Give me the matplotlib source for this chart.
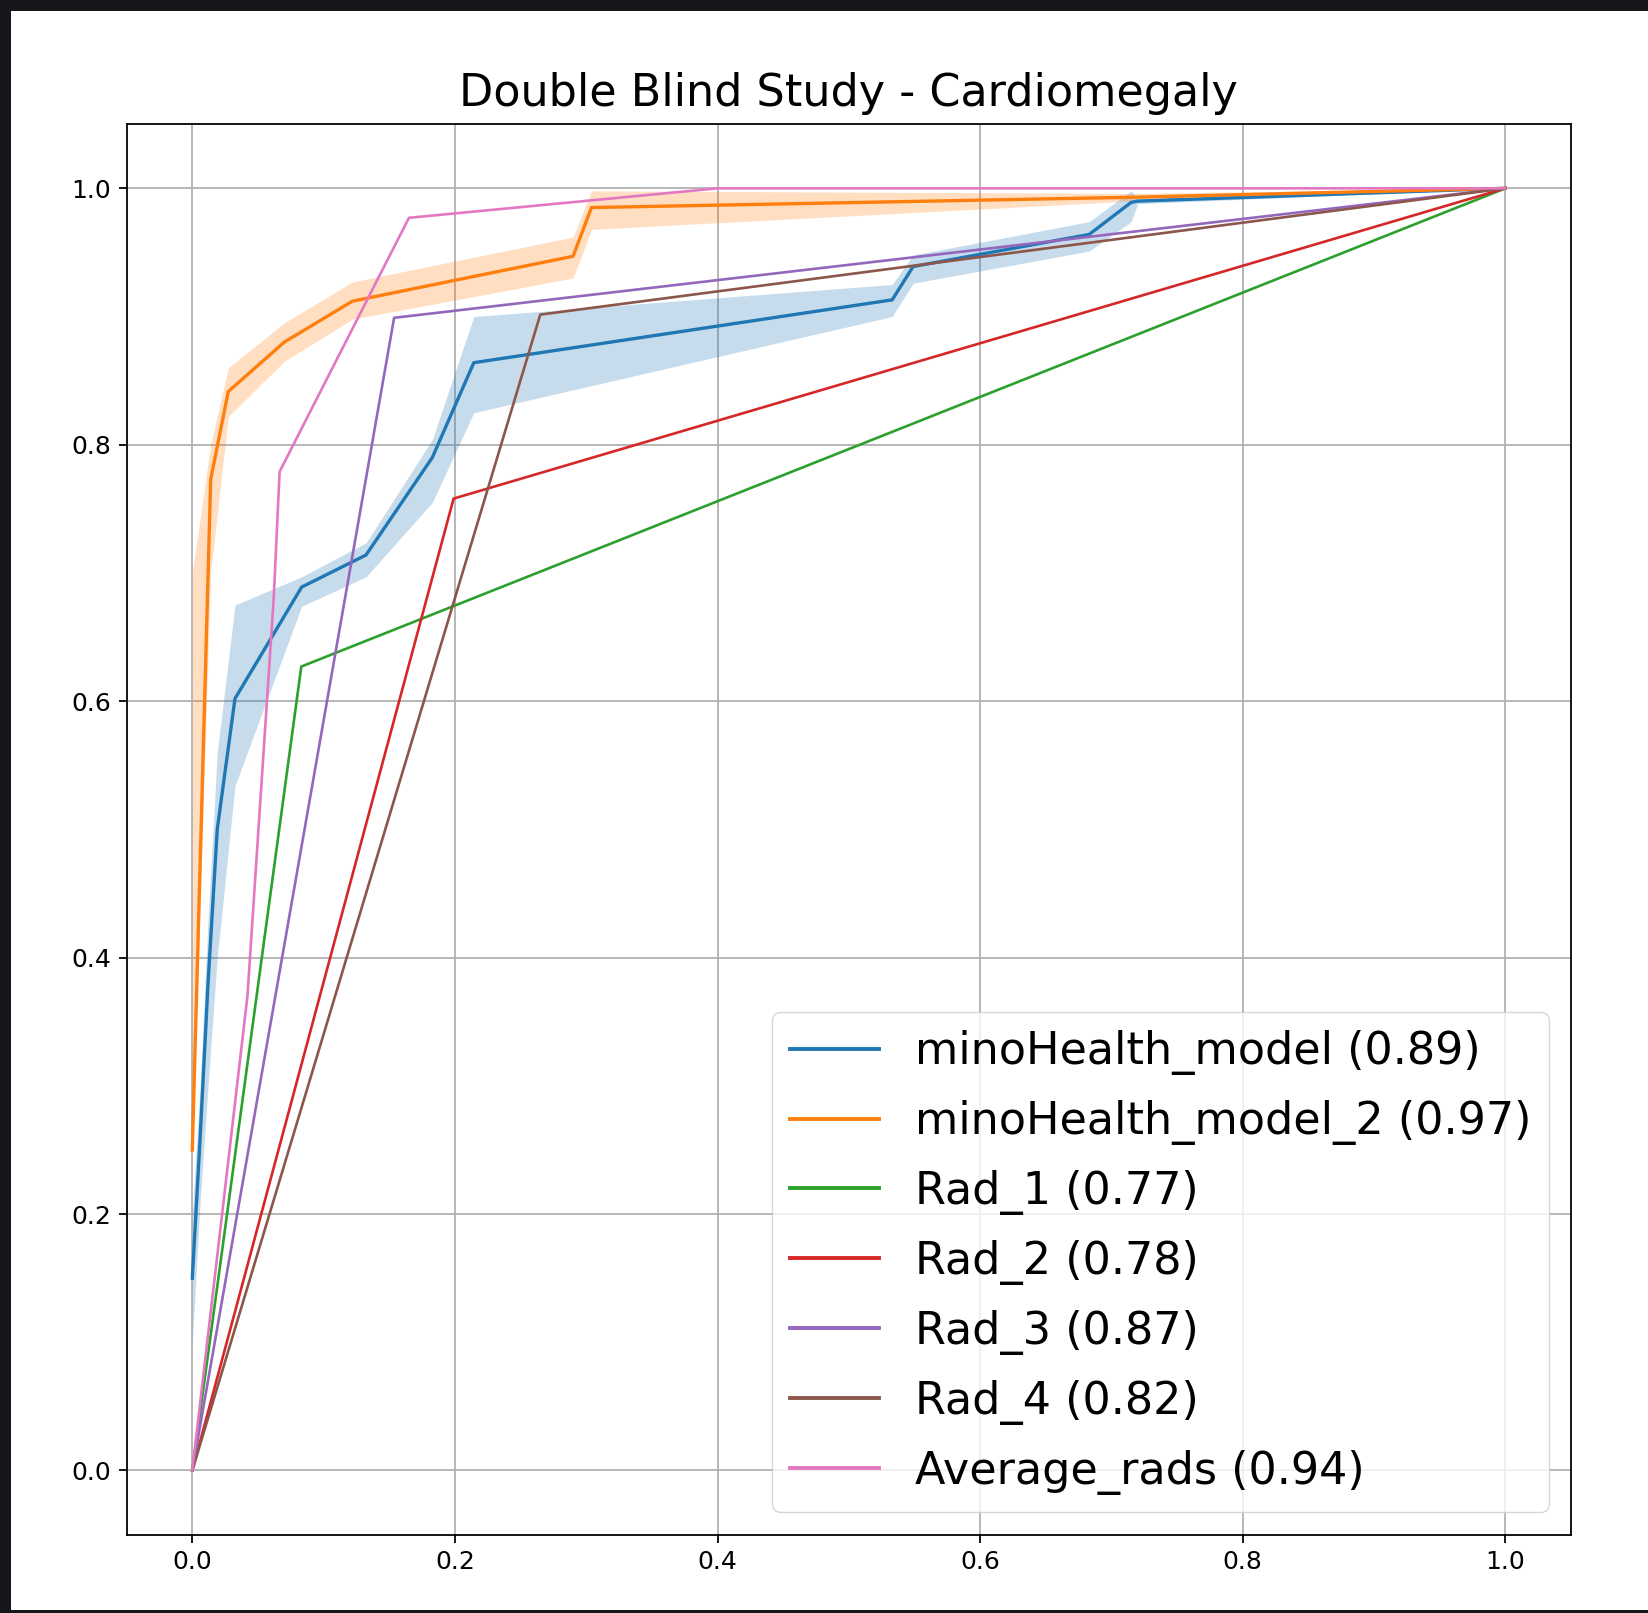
import matplotlib
matplotlib.use('Agg')
import matplotlib.pyplot as plt
from matplotlib.patches import Rectangle

# ROC points (FPR, TPR)
model_fpr = [0.0, 0.006, 0.012, 0.019, 0.0325, 0.0833, 0.1323, 0.1828, 0.2144, 0.533, 0.549, 0.683, 0.715, 0.72, 1.0]
model_tpr = [0.15, 0.26, 0.38, 0.50, 0.602, 0.689, 0.714, 0.790, 0.864, 0.913, 0.939, 0.964, 0.989, 0.99, 1.0]
model_hi = [0.20, 0.30, 0.43, 0.56, 0.675, 0.697, 0.7235, 0.804, 0.900, 0.925, 0.948, 0.974, 0.998, 0.992, 1.0]
model_lo = [0.10, 0.21, 0.30, 0.40, 0.534, 0.674, 0.697, 0.755, 0.825, 0.900, 0.926, 0.951, 0.974, 0.988, 1.0]

model2_fpr = [0.0, 0.014, 0.0274, 0.07, 0.122, 0.29, 0.304, 0.715, 1.0]
model2_tpr = [0.25, 0.773, 0.8415, 0.88, 0.912, 0.947, 0.985, 0.993, 1.0]
model2_hi = [0.70, 0.80, 0.86, 0.895, 0.927, 0.962, 0.998, 0.996, 1.0]
model2_lo = [0.25, 0.70, 0.822, 0.865, 0.898, 0.930, 0.968, 0.990, 1.0]

rad1_fpr = [0.0, 0.083, 1.0]
rad1_tpr = [0.0, 0.627, 1.0]
rad2_fpr = [0.0, 0.199, 1.0]
rad2_tpr = [0.0, 0.758, 1.0]
rad3_fpr = [0.0, 0.1537, 1.0]
rad3_tpr = [0.0, 0.899, 1.0]
rad4_fpr = [0.0, 0.265, 1.0]
rad4_tpr = [0.0, 0.9015, 1.0]
avg_fpr = [0.0, 0.042, 0.062, 0.0665, 0.165, 0.4, 1.0]
avg_tpr = [0.0, 0.37, 0.68, 0.779, 0.977, 1.0, 1.0]

labels = ['minoHealth_model (0.89)', 'minoHealth_model_2 (0.97)', 'Rad_1 (0.77)',
          'Rad_2 (0.78)', 'Rad_3 (0.87)', 'Rad_4 (0.82)', 'Average_rads (0.94)']
ticks = [0.0, 0.2, 0.4, 0.6, 0.8, 1.0]

W, H = 1649, 1613
fig = plt.figure(figsize=(W / 100, H / 100), dpi=100)
fig.patch.set_facecolor('#16171b')
fig.add_artist(Rectangle((11 / W, 3 / H), 1 - 11 / W, 1 - 14 / H, transform=fig.transFigure,
                         facecolor='white', edgecolor='none', zorder=-1))

ax = fig.add_axes([0.0768, 0.0486, 0.8759, 0.8744])

ax.plot(model_fpr, model_tpr, color='C0', lw=2.4, label=labels[0])
ax.fill_between(model_fpr, model_lo, model_hi, color='C0', alpha=0.25, lw=0)
ax.plot(model2_fpr, model2_tpr, color='C1', lw=2.4, label=labels[1])
ax.fill_between(model2_fpr, model2_lo, model2_hi, color='C1', alpha=0.25, lw=0)
ax.plot(rad1_fpr, rad1_tpr, color='C2', lw=1.9, label=labels[2])
ax.plot(rad2_fpr, rad2_tpr, color='C3', lw=1.9, label=labels[3])
ax.plot(rad3_fpr, rad3_tpr, color='C4', lw=1.9, label=labels[4])
ax.plot(rad4_fpr, rad4_tpr, color='C5', lw=1.9, label=labels[5])
ax.plot(avg_fpr, avg_tpr, color='C6', lw=1.9, label=labels[6])

ax.set_xlim(-0.05, 1.05)
ax.set_ylim(-0.05, 1.05)
ax.set_xticks(ticks)
ax.set_yticks(ticks)
ax.tick_params(labelsize=18, length=5.6, width=1.28, pad=5.6)
for s in ax.spines.values():
    s.set_linewidth(1.28)
ax.grid(True, color='#b0b0b0', lw=1.28)
ax.set_axisbelow(True)

ax.set_title('Double Blind Study - Cardiomegaly', fontsize=32, pad=13)
leg = ax.legend(loc='lower right', fontsize=32, labelspacing=0.56, handlelength=2.0)
for line in leg.get_lines():
    line.set_linewidth(2.8)

fig.savefig('out.png', dpi=100, facecolor=fig.get_facecolor())
